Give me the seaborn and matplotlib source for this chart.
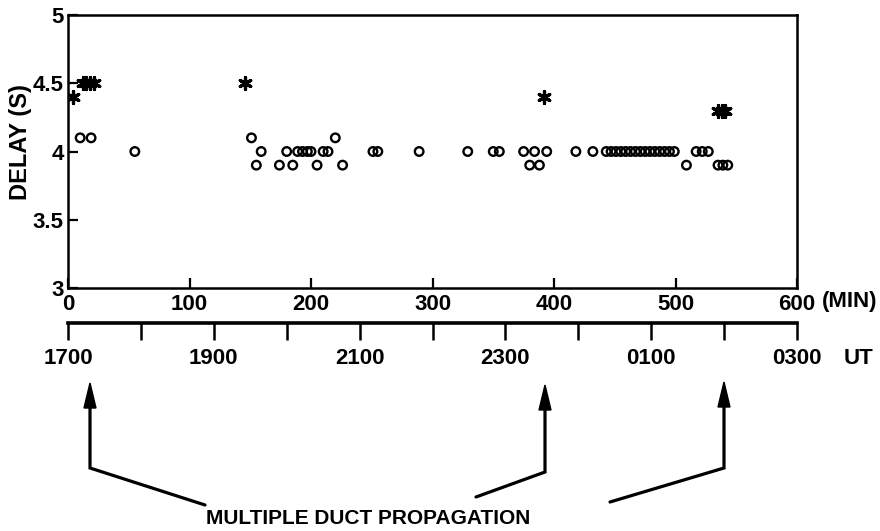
import numpy as np
import pandas as pd
import seaborn as sns
import matplotlib.pyplot as plt
from matplotlib.lines import Line2D
from matplotlib.patches import Polygon

# ---------------- data ----------------
star_minutes = [4, 12, 15, 18, 21, 146, 392, 535, 538, 541]
star_delay = [4.4, 4.5, 4.5, 4.5, 4.5, 4.5, 4.4, 4.3, 4.3, 4.3]

circle_minutes = [10, 19, 55, 151, 155, 159, 174, 180, 185, 189, 193, 197, 200,
                  205, 210, 214, 220, 226, 251, 255, 289, 329, 350, 355, 375,
                  380, 384, 388, 394, 418, 432, 443, 447, 451, 455, 459, 463,
                  467, 471, 475, 479, 483, 487, 491, 495, 499, 509, 517, 522,
                  527, 535, 539, 543]
circle_delay = [4.1, 4.1, 4.0, 4.1, 3.9, 4.0, 3.9, 4.0, 3.9, 4.0, 4.0, 4.0, 4.0,
                3.9, 4.0, 4.0, 4.1, 3.9, 4.0, 4.0, 4.0, 4.0, 4.0, 4.0, 4.0,
                3.9, 4.0, 3.9, 4.0, 4.0, 4.0, 4.0, 4.0, 4.0, 4.0, 4.0, 4.0,
                4.0, 4.0, 4.0, 4.0, 4.0, 4.0, 4.0, 4.0, 4.0, 3.9, 4.0, 4.0,
                4.0, 3.9, 3.9, 3.9]

min_ticks = [0, 100, 200, 300, 400, 500, 600]
y_ticks = [3, 3.5, 4, 4.5, 5]
y_tick_labels = ["3", "3.5", "4", "4.5", "5"]
ut_major = [0, 120, 240, 360, 480, 600]
ut_minor = [60, 180, 300, 420, 540]
ut_labels = ["1700", "1900", "2100", "2300", "0100", "0300"]
annotation_text = "MULTIPLE DUCT PROPAGATION"

stars = pd.DataFrame({"minute": star_minutes, "delay": star_delay})
circles = pd.DataFrame({"minute": circle_minutes, "delay": circle_delay})

# ---------------- style ----------------
sns.set_theme(style="ticks")
plt.rcParams["font.family"] = ["Liberation Sans", "DejaVu Sans"]
plt.rcParams["font.weight"] = "bold"
plt.rcParams["xtick.bottom"] = True
plt.rcParams["ytick.left"] = True
plt.rcParams["text.color"] = "black"
plt.rcParams["axes.labelcolor"] = "black"

W, H = 880, 531
fig = plt.figure(figsize=(8.8, 5.31), dpi=100)


def fx(px):
    return px / W


def fy(py):
    return 1 - py / H


# ---------------- main axes ----------------
ax = fig.add_axes([fx(68), fy(288), fx(797) - fx(68), fy(15) - fy(288)])
sns.scatterplot(data=circles, x="minute", y="delay", ax=ax, marker="o", s=38,
                facecolor="none", edgecolor="black", linewidth=1.7, zorder=3)
sns.scatterplot(data=stars, x="minute", y="delay", ax=ax, marker=(6, 2, 0), s=75,
                color="black", linewidth=2.3, zorder=4)
ax.set_xlim(0, 600)
ax.set_ylim(3, 5)
ax.set_xticks(min_ticks)
ax.set_xticklabels([str(t) for t in min_ticks])
ax.set_yticks(y_ticks)
ax.set_yticklabels(y_tick_labels)
ax.set_xlabel("")
ax.set_ylabel("DELAY (S)", fontsize=17, fontweight="bold", color="black")
ax.yaxis.set_label_coords(-0.05, 0.535)
for s in ax.spines.values():
    s.set_visible(True)
    s.set_linewidth(1.8)
    s.set_color("black")
ax.tick_params(axis="both", which="major", direction="in", length=7, width=1.6,
               color="black", labelsize=16, labelcolor="black",
               bottom=True, left=True, top=False, right=False)
ax.tick_params(axis="x", pad=4)
ax.tick_params(axis="y", pad=3)
ax.grid(False)

fig.text(fx(822), fy(302), "(MIN)", fontsize=16, fontweight="bold",
         ha="left", va="center", color="black")

# ---------------- UT axis ----------------
ax2 = fig.add_axes([fx(68), fy(323), fx(797) - fx(68), 0.001])
ax2.set_facecolor("none")
ax2.set_xlim(0, 600)
ax2.set_yticks([])
for name, s in ax2.spines.items():
    s.set_visible(name == "bottom")
ax2.spines["bottom"].set_linewidth(2.6)
ax2.spines["bottom"].set_color("black")
ax2.set_xticks(ut_major)
ax2.set_xticklabels(ut_labels)
ax2.set_xticks(ut_minor, minor=True)
ax2.tick_params(axis="x", which="both", direction="out", length=12, width=1.8,
                color="black", labelsize=16, labelcolor="black", pad=6,
                bottom=True, top=False)
ax2.grid(False)
fig.text(fx(844), fy(359), "UT", fontsize=16, fontweight="bold",
         ha="left", va="center", color="black")

# ---------------- arrows ----------------
arrows = [
    (90, 383, 468, (205, 505)),
    (545, 385, 472, (476, 497)),
    (724, 382, 468, (610, 502)),
]
for x, tip, bottom, (ex, ey) in arrows:
    head = Polygon([[fx(x), fy(tip)], [fx(x - 6), fy(tip + 25)], [fx(x + 6), fy(tip + 25)]],
                   closed=True, transform=fig.transFigure, facecolor="black",
                   edgecolor="black", linewidth=1)
    fig.add_artist(head)
    fig.add_artist(Line2D([fx(x), fx(x), fx(ex)], [fy(tip + 20), fy(bottom), fy(ey)],
                          transform=fig.transFigure, color="black", linewidth=2.3,
                          solid_joinstyle="miter"))

fig.text(fx(368), fy(519), annotation_text, fontsize=15, fontweight="bold",
         ha="center", va="center", color="black")

fig.savefig("out.png", dpi=100)
